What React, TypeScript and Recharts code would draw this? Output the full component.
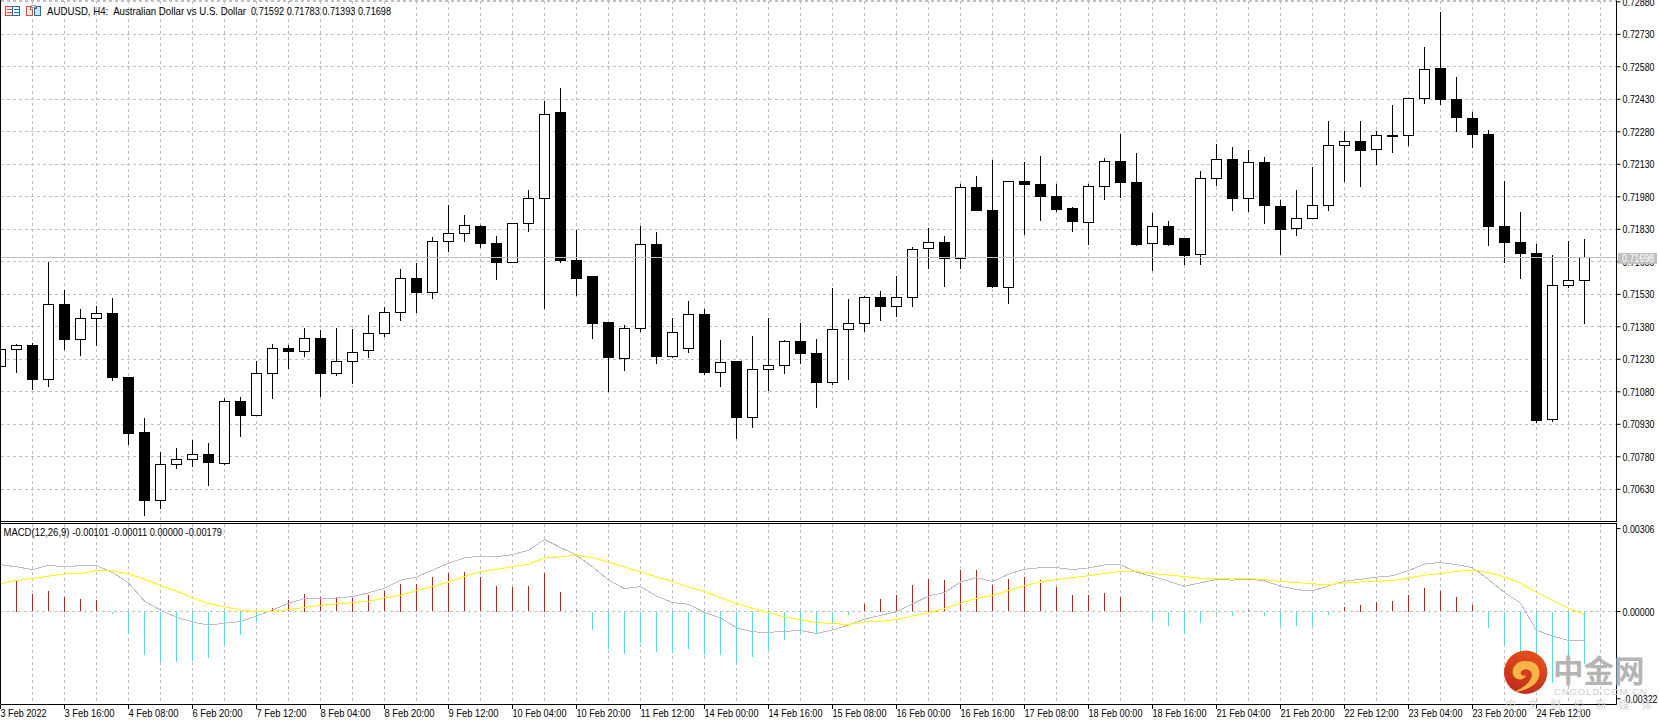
import { Bar, CartesianGrid, ComposedChart, Line, ReferenceLine, XAxis, YAxis } from "recharts"

const opens = [
  .71196, .71276, .71294, .71137, .71483, .71320, .71417, .71442, .71148, .70893,
  .70579, .70745, .70768, .70791, .70750, .71036, .70971, .71164, .71280, .71265,
  .71327, .71164, .71219, .71270, .71348, .71447, .71603, .71537, .71774, .71811,
  .71844, .71765, .71676, .71858, .71971, .72367, .71688, .71610, .71398, .71235,
  .71373, .71762, .71244, .71281, .71439, .71170, .71218, .70963, .71184, .71202,
  .71313, .71258, .71124, .71369, .71396, .71517, .71475, .71517, .71742, .71770,
  .71696, .72024, .71915, .71562, .72051, .72038, .71982, .71927, .71862, .72028,
  .72144, .72047, .71764, .71844, .71788, .71713, .72064, .72153, .71971, .72139,
  .71937, .71833, .71879, .71939, .72217, .72236, .72199, .72262, .72264, .72434,
  .72573, .72430, .72342, .72268, .71844, .71770, .71719, .70953, .71571, .71592,
]

const closes = [
  .71276, .71294, .71136, .71483, .71320, .71419, .71442, .71145, .70887, .70578,
  .70745, .70768, .70791, .70753, .71036, .70970, .71165, .71280, .71265, .71327,
  .71164, .71220, .71262, .71350, .71447, .71603, .71537, .71774, .71811, .71847,
  .71764, .71676, .71858, .71971, .72360, .71688, .71605, .71393, .71238, .71373,
  .71761, .71243, .71355, .71438, .71169, .71216, .70961, .71184, .71202, .71313,
  .71256, .71122, .71369, .71396, .71517, .71473, .71517, .71738, .71770, .71695,
  .72024, .71916, .71565, .72051, .72036, .71981, .71921, .71865, .72027, .72144,
  .72045, .71758, .71842, .71758, .71707, .72065, .72153, .71971, .72139, .71939,
  .71831, .71881, .71941, .72217, .72236, .72193, .72264, .72264, .72434, .72568,
  .72428, .72345, .72267, .71842, .71768, .71718, .70947, .71571, .71595, .71698,
]

const highs = [
  .71276, .71300, .71303, .71680, .71548, .71460, .71476, .71513, .71148, .70959,
  .70802, .70821, .70856, .70844, .71050, .71054, .71222, .71300, .71294, .71373,
  .71365, .71373, .71368, .71433, .71471, .71646, .71674, .71793, .71942, .71894,
  .71848, .71799, .71858, .72010, .72420, .72482, .71827, .71613, .71401, .71387,
  .71845, .71816, .71422, .71499, .71462, .71319, .71222, .71338, .71422, .71319,
  .71396, .71322, .71559, .71508, .71522, .71545, .71615, .71747, .71836, .71799,
  .72039, .72076, .72150, .72051, .72141, .72168, .72038, .71933, .72038, .72158,
  .72270, .72181, .71904, .71867, .71788, .72099, .72224, .72210, .72196, .72164,
  .71965, .72011, .72117, .72330, .72284, .72330, .72284, .72403, .72434, .72671,
  .72833, .72531, .72370, .72287, .72053, .71910, .71761, .71710, .71778, .71783,
]

const lows = [
  .71196, .71168, .71088, .71104, .71274, .71247, .71293, .71131, .70834, .70508,
  .70538, .70724, .70733, .70647, .70742, .70873, .70971, .71047, .71187, .71240,
  .71056, .71154, .71116, .71236, .71333, .71407, .71443, .71508, .71727, .71773,
  .71745, .71597, .71676, .71819, .71463, .71676, .71524, .71325, .71081, .71176,
  .71358, .71210, .71238, .71261, .71159, .71104, .70860, .70915, .71084, .71164,
  .71210, .71007, .71112, .71136, .71358, .71409, .71425, .71473, .71647, .71565,
  .71647, .71916, .71559, .71487, .71804, .71870, .71911, .71819, .71758, .71967,
  .71974, .71753, .71638, .71753, .71667, .71667, .72030, .71914, .71910, .71856,
  .71711, .71801, .71876, .71916, .72048, .72027, .72128, .72184, .72216, .72410,
  .72405, .72279, .72207, .71753, .71673, .71602, .70938, .70942, .71561, .71393,
]

const histValues = [
  .00095, .00112, .00064, .00075, .00053, .00046, .00042, -.00009, -.00079, -.00160,
  -.00185, -.00186, -.00183, -.00172, -.00118, -.00086, -.00038, .00012, .00042, .00064,
  .00053, .00049, .00049, .00060, .00075, .00101, .00101, .00127, .00141, .00145,
  .00127, .00093, .00090, .00093, .00141, .00071, .00004, -.00069, -.00140, -.00156,
  -.00117, -.00149, -.00154, -.00139, -.00162, -.00160, -.00189, -.00169, -.00143, -.00106,
  -.00084, -.00084, -.00046, -.00012, .00027, .00046, .00060, .00097, .00119, .00116,
  .00153, .00153, .00097, .00119, .00127, .00116, .00090, .00060, .00060, .00068,
  .00053, 0, -.00030, -.00053, -.00079, -.00042, -.00009, -.00016, .00005, -.00016,
  -.00053, -.00053, -.00053, -.00011, .00016, .00023, .00034, .00038, .00060, .00086,
  .00075, .00053, .00023, -.00060, -.00123, -.00186, -.00220, -.00264, -.00235, -.00193,
]

const macdValues = [
  .00173, .00165, .00155, .00170, .00166, .00169, .00170, .00144, .00106, .00038,
  .00005, -.00021, -.00039, -.00050, -.00043, -.00037, -.00017, .00006, .00030, .00048,
  .00048, .00050, .00055, .00069, .00086, .00116, .00127, .00153, .00178, .00198,
  .00205, .00202, .00210, .00226, .00266, .00236, .00208, .00165, .00116, .00085,
  .00092, .00057, .00033, .00027, -.00004, -.00023, -.00060, -.00075, -.00077, -.00073,
  -.00070, -.00081, -.00068, -.00050, -.00028, -.00014, -.00001, .00028, .00057, .00070,
  .00109, .00125, .00111, .00138, .00156, .00162, .00162, .00155, .00161, .00172,
  .00173, .00145, .00130, .00112, .00093, .00106, .00118, .00116, .00119, .00114,
  .00093, .00081, .00076, .00095, .00112, .00119, .00127, .00132, .00151, .00175,
  .00181, .00173, .00162, .00118, .00070, .00031, -.00069, -.00090, -.00107, -.00107,
]

const signalValues = [
  .00103, .00114, .00122, .00130, .00139, .00140, .00151, .00150, .00140, .00119,
  .00097, .00075, .00052, .00030, .00018, .00006, -.00001, 0, .00007, .00015,
  .00023, .00028, .00033, .00038, .00050, .00060, .00077, .00092, .00109, .00130,
  .00146, .00156, .00165, .00175, .00197, .00202, .00208, .00199, .00182, .00165,
  .00146, .00128, .00111, .00091, .00074, .00052, .00030, .00012, -.00004, -.00020,
  -.00030, -.00041, -.00044, -.00048, -.00039, -.00036, -.00030, -.00017, -.00005, .00011,
  .00031, .00048, .00059, .00077, .00095, .00109, .00118, .00125, .00132, .00140,
  .00148, .00149, .00140, .00135, .00129, .00123, .00122, .00122, .00122, .00118,
  .00111, .00107, .00102, .00100, .00105, .00109, .00112, .00114, .00124, .00134,
  .00140, .00148, .00153, .00144, .00128, .00105, .00071, .00041, .00012, -.00011,
]

const timeLabels = [
  "3 Feb 2022", "3 Feb 16:00", "4 Feb 08:00", "6 Feb 20:00", "7 Feb 12:00", "8 Feb 04:00", "8 Feb 20:00",
  "9 Feb 12:00", "10 Feb 04:00", "10 Feb 20:00", "11 Feb 12:00", "14 Feb 00:00", "14 Feb 16:00", "15 Feb 08:00",
  "16 Feb 00:00", "16 Feb 16:00", "17 Feb 08:00", "18 Feb 00:00", "18 Feb 16:00", "21 Feb 04:00", "21 Feb 20:00",
  "22 Feb 12:00", "23 Feb 04:00", "23 Feb 20:00", "24 Feb 12:00",
]

const priceTicks = [
  .7288, .7273, .7258, .7243, .7228, .7213, .7198, .7183, .7168, .7153, .7138, .7123, .7108, .7093, .7078, .7063,
]
const macdTicks = [.00306, 0, -.00322]
const gridTicks = Array.from({ length: 51 }, (_, i) => i * 2)
const lastPrice = .71698

const font = "'Liberation Sans', sans-serif"
const gridColor = "#c0c0c0"

const table = opens.map((open, i) => ({
  idx: i,
  open,
  close: closes[i],
  high: highs[i],
  low: lows[i],
  range: [lows[i], highs[i]],
  hist: histValues[i],
  macd: macdValues[i],
  signal: signalValues[i],
}))

// the terminal's font is narrow, so each string is squeezed to the width it has there
function SqueezedText({ x, y, width, fill = "#000", children }: any) {
  return (
    <text
      x={x}
      y={y}
      fontSize={11}
      fontFamily={font}
      fill={fill}
      textLength={width}
      lengthAdjust="spacingAndGlyphs"
      style={{ whiteSpace: "pre" }}
    >
      {children}
    </text>
  )
}

function Candle(props: any) {
  const { x, y, width, height, payload } = props
  const cx = Math.floor(x + width / 2) + 0.5
  const perUnit = height / (payload.high - payload.low)
  const up = payload.close >= payload.open
  const top = Math.floor(y + (payload.high - Math.max(payload.open, payload.close)) * perUnit) + 0.5
  const bottom = Math.floor(y + (payload.high - Math.min(payload.open, payload.close)) * perUnit) + 0.5
  return (
    <g shapeRendering="crispEdges">
      <line x1={cx} x2={cx} y1={y} y2={y + height} stroke="#000" />
      <rect x={cx - 5} y={top} width={10} height={Math.max(bottom - top, 1)} fill={up ? "#fff" : "#000"} stroke="#000" />
    </g>
  )
}

function HistBar(props: any) {
  const { x, y, width, height, payload } = props
  return (
    <rect
      x={Math.floor(x + width / 2)}
      y={Math.min(y, y + height)}
      width={1}
      height={Math.abs(height)}
      fill={payload.hist >= 0 ? "#ff0000" : "#00ffff"}
      shapeRendering="crispEdges"
    />
  )
}

function PriceTick(props: any) {
  const { x, y, payload } = props
  return (
    <SqueezedText x={x} y={y + 4} width={payload.value < 0 ? 35 : 32}>
      {payload.value.toFixed(5)}
    </SqueezedText>
  )
}

function LastPriceTag(props: any) {
  const { y, payload } = props
  return (
    <g>
      <rect x={1618} y={y - 5} width={39} height={11} fill="#c0c0c0" />
      <SqueezedText x={1622} y={y + 4} width={32} fill="#fff">
        {payload.value.toFixed(5)}
      </SqueezedText>
    </g>
  )
}

function TimeTick(props: any) {
  const { x, y, payload } = props
  if (payload.value % 4 !== 0) return null
  const label = timeLabels[payload.value / 4]
  if (!label) return null
  const width = label.length === 12 ? 54 : label.endsWith("2022") ? 46 : 50
  return (
    <g>
      <line x1={x} x2={x} y1={y} y2={y + 4} stroke="#000" shapeRendering="crispEdges" />
      <SqueezedText x={x} y={y + 12.5} width={width}>
        {label}
      </SqueezedText>
    </g>
  )
}

function Overlay() {
  return (
    <svg width={1659} height={723} style={{ position: "absolute", left: 0, top: 0, pointerEvents: "none" }}>
      <defs>
        <linearGradient id="logoFill" x1="0.7" y1="0" x2="0.2" y2="1">
          <stop offset="0" stopColor="#e8501a" />
          <stop offset="1" stopColor="#bc2a1e" />
        </linearGradient>
      </defs>

      <g shapeRendering="crispEdges">
        <rect x={5.5} y={6.5} width={7} height={9} fill="#fff" stroke="#e0443a" />
        <rect x={12.5} y={6.5} width={7} height={9} fill="#fff" stroke="#1f6fb5" />
        <path d="M7 9.5h5M7 12.5h5" stroke="#e0443a" />
        <path d="M14 9.5h5M14 12.5h5" stroke="#1f6fb5" />
        <path d="M26.5 6.5h4v3h2v6h-6z" fill="#fbe3e0" stroke="#e0443a" />
        <path d="M34.5 8.5h2v-2h4v9h-6z" fill="#cfe6f7" stroke="#1f6fb5" />
        <rect x={31.5} y={5.5} width={4} height={2} fill="#eee" stroke="#999" />
      </g>

      <SqueezedText x={47} y={14.5} width={199}>
        {"AUDUSD, H4:  Australian Dollar vs U.S. Dollar"}
      </SqueezedText>
      <SqueezedText x={251} y={14.5} width={140}>
        {"0.71592 0.71783 0.71393 0.71698"}
      </SqueezedText>
      <SqueezedText x={3.5} y={536} width={66}>
        {"MACD(12,26,9)"}
      </SqueezedText>
      <SqueezedText x={72.5} y={536} width={149.5}>
        {"-0.00101 -0.00011 0.00000 -0.00179"}
      </SqueezedText>

      <circle cx={1525.7} cy={672.3} r={21.7} fill="url(#logoFill)" />
      <g transform="translate(1490 630) scale(0.3333)">
        <path
          d="M68 130 C66 105 90 88 112 94 C135 92 152 112 148 135 C146 160 115 182 72 186 C100 172 122 160 126 136 C126 118 104 112 94 124 C88 134 100 142 108 134 C106 152 74 156 68 130Z"
          fill="#f6b547"
        />
      </g>
      <text x={1553} y={682} fontSize={30.5} fontWeight={700} fontFamily="'Noto Sans CJK SC'" fill="#b4b4b4">
        中金网
      </text>
      <text x={1554} y={695} fontSize={9.5} letterSpacing={0.9} fontFamily={font} fill="#cccccc">
        CNGOLD.COM.CN
      </text>
      <text x={1505} y={709} fontSize={11} letterSpacing={11.7} fontFamily="'Noto Sans CJK SC'" fill="#d6d6d6">
        中文财经新媒体
      </text>
    </svg>
  )
}

export default function App() {
  return (
    <div style={{ position: "absolute", left: 0, top: 0, width: 1659, height: 723, background: "#fff", overflow: "hidden" }}>
      <div style={{ position: "absolute", left: 0, top: 0 }}>
        <ComposedChart width={1659} height={522} data={table} margin={{ top: 0.5, right: 0, bottom: 0.5, left: 0.5 }}>
          <CartesianGrid stroke={gridColor} strokeDasharray="3 3" shapeRendering="crispEdges" />
          <XAxis dataKey="idx" type="number" domain={[0, 101]} ticks={gridTicks} interval={0} hide />
          <YAxis
            orientation="right"
            width={42.4}
            domain={[.704814, .72886]}
            ticks={priceTicks}
            interval={0}
            tick={<PriceTick />}
            stroke="#000"
            tickSize={4}
            tickMargin={2}
            allowDataOverflow
          />
          <YAxis
            yAxisId="tag"
            orientation="right"
            width={0.1}
            domain={[.704814, .72886]}
            ticks={[lastPrice]}
            interval={0}
            tick={<LastPriceTag />}
            axisLine={false}
            tickLine={false}
            allowDataOverflow
          />
          <ReferenceLine y={lastPrice} stroke={gridColor} shapeRendering="crispEdges" />
          <Bar dataKey="range" barSize={11} shape={<Candle />} isAnimationActive={false} />
        </ComposedChart>
      </div>

      <div style={{ position: "absolute", left: 0, top: 524 }}>
        <ComposedChart width={1659} height={199} data={table} margin={{ top: 0, right: 0, bottom: 0, left: 0.5 }}>
          <CartesianGrid stroke={gridColor} strokeDasharray="3 3" horizontal={false} shapeRendering="crispEdges" />
          <XAxis
            dataKey="idx"
            type="number"
            domain={[0, 101]}
            ticks={gridTicks}
            interval={0}
            height={18.5}
            stroke="#000"
            tickLine={false}
            tickSize={0}
            tickMargin={0}
            tick={<TimeTick />}
          />
          <YAxis
            orientation="right"
            width={42.5}
            domain={[-.00343, .00323]}
            ticks={macdTicks}
            interval={0}
            tick={<PriceTick />}
            stroke="#000"
            tickSize={4}
            tickMargin={2}
          />
          <ReferenceLine y={0} stroke={gridColor} strokeDasharray="3 3" shapeRendering="crispEdges" />
          <Bar dataKey="hist" barSize={1} shape={<HistBar />} isAnimationActive={false} />
          <Line dataKey="macd" stroke="#bdbdbd" strokeWidth={1} shapeRendering="crispEdges" dot={false} activeDot={false} isAnimationActive={false} />
          <Line dataKey="signal" stroke="#ffff00" strokeWidth={1} shapeRendering="crispEdges" dot={false} activeDot={false} isAnimationActive={false} />
        </ComposedChart>
      </div>

      {/* window frame */}
      <div style={{ position: "absolute", left: 0, top: 0, width: 1, height: 704, background: "#000" }} />
      <div style={{ position: "absolute", left: 0, top: 521, width: 1617, height: 1, background: "#000" }} />
      <div style={{ position: "absolute", left: 0, top: 523, width: 1617, height: 1, background: "#000" }} />

      <Overlay />
    </div>
  )
}
